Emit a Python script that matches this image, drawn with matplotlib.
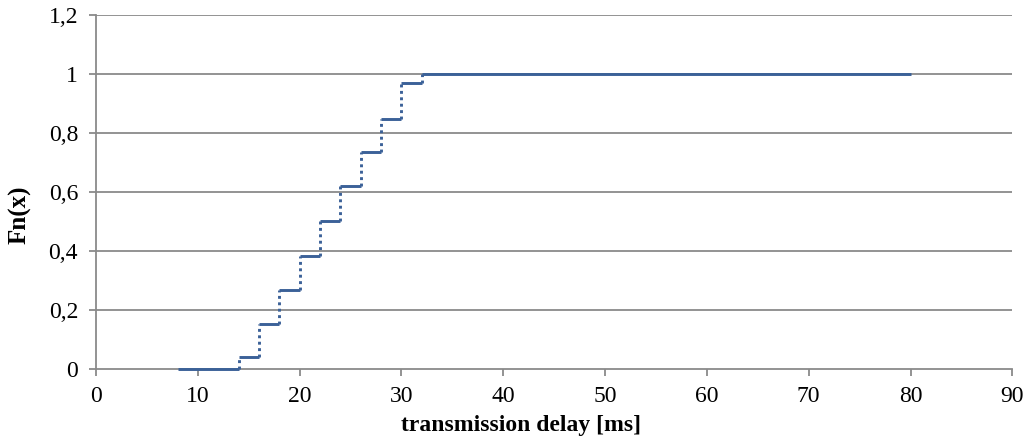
import matplotlib
matplotlib.use("Agg")
import matplotlib.pyplot as plt
import numpy as np

# Empirical distribution of transmission delay (step function)
step_edges = [8, 14, 16, 18, 20, 22, 24, 26, 28, 30, 32, 80]
step_levels = [0.0, 0.04, 0.152, 0.267, 0.384, 0.502, 0.62, 0.735, 0.849, 0.968, 1.0]

x_ticks = [0, 10, 20, 30, 40, 50, 60, 70, 80, 90]
y_ticks = [0, 0.2, 0.4, 0.6, 0.8, 1.0, 1.2]
y_tick_labels = ["0", "0,2", "0,4", "0,6", "0,8", "1", "1,2"]

plt.rcParams["font.family"] = ["Liberation Serif", "DejaVu Serif"]

fig = plt.figure(figsize=(10.33, 4.42), dpi=100)
ax = fig.add_axes([0.093, 0.165, 0.887, 0.801])

line_color = "#3B6198"
grid_color = "#8A8A8A"

# horizontal segments solid, vertical jumps dotted
for i, lvl in enumerate(step_levels):
    ax.hlines(lvl, step_edges[i], step_edges[i + 1], color=line_color, lw=2.1,
              zorder=3, clip_on=False)
for i in range(1, len(step_levels)):
    ax.vlines(step_edges[i], step_levels[i - 1], step_levels[i], color=line_color,
              lw=2.1, linestyles=(0, (1, 1.2)), zorder=3, clip_on=False)

ax.set_xlim(0, 90)
ax.set_ylim(0, 1.2)
ax.set_xticks(x_ticks)
ax.set_yticks(y_ticks)
ax.set_yticklabels(y_tick_labels)

for y in y_ticks[1:]:
    ax.axhline(y, color=grid_color, lw=1.3, zorder=1)

for s in ["top", "right"]:
    ax.spines[s].set_visible(False)
for s in ["left", "bottom"]:
    ax.spines[s].set_color(grid_color)
    ax.spines[s].set_linewidth(1.3)

ax.tick_params(axis="both", direction="out", length=5, width=1.3, color=grid_color,
               labelsize=17)
ax.tick_params(axis="x", pad=7)
ax.tick_params(axis="y", pad=8)

ax.set_xlabel("transmission delay [ms]", fontsize=17, fontweight="bold", va="center")
ax.xaxis.set_label_coords(0.464, -0.158)
ax.set_ylabel("Fn(x)", fontsize=18, fontweight="bold", va="center")
ax.yaxis.set_label_coords(-0.083, 0.435)

fig.savefig("out.png", dpi=100)
